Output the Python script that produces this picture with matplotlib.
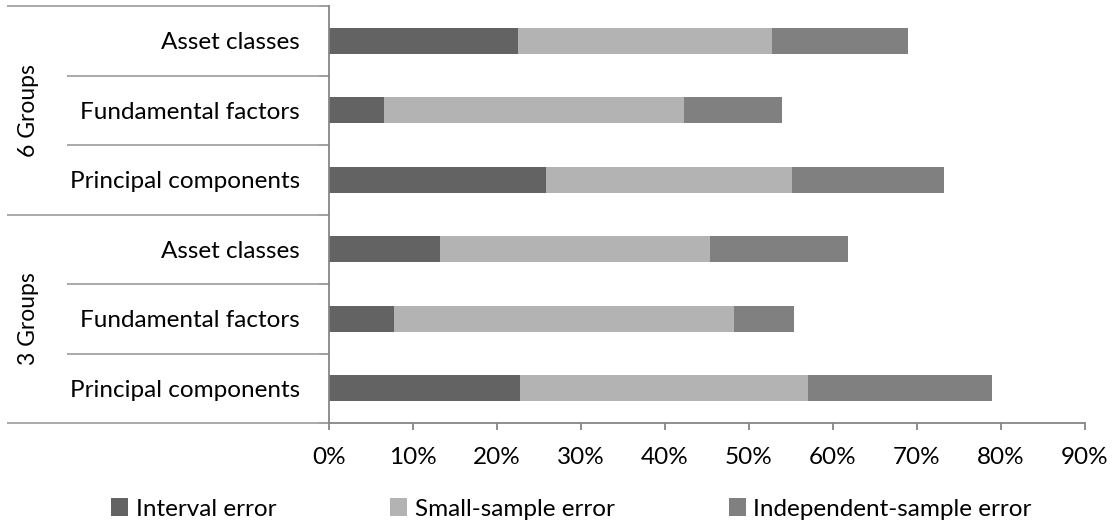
import matplotlib
matplotlib.use("Agg")
import matplotlib.pyplot as plt
import matplotlib.transforms as mtransforms
from matplotlib.patches import Patch
from matplotlib.ticker import FixedLocator, FuncFormatter

plt.rcParams['font.family'] = ['Lato', 'DejaVu Sans']

# Data, bottom to top
categories = ["Principal components", "Fundamental factors", "Asset classes",
              "Principal components", "Fundamental factors", "Asset classes"]
groups = ["3 Groups", "6 Groups"]
interval_err = [22.7, 7.7, 13.2, 25.8, 6.5, 22.5]
small_sample_err = [34.3, 40.5, 32.2, 29.3, 35.8, 30.2]
independent_err = [21.9, 7.2, 16.4, 18.1, 11.6, 16.2]
series_names = ["Interval error", "Small-sample error", "Independent-sample error"]
colors = ["#636363", "#b3b3b3", "#808080"]
xticks = [0, 10, 20, 30, 40, 50, 60, 70, 80, 90]

FS = 17.5
W, H = 1116, 527
fig = plt.figure(figsize=(W / 100, H / 100), dpi=100)
L, R, T, B = 329, 1085, 6, 423
ax = fig.add_axes([L / W, 1 - B / H, (R - L) / W, (B - T) / H])

ypos = list(range(len(categories)))
bh = 0.375
left = [0] * len(categories)
for vals, c, name in zip([interval_err, small_sample_err, independent_err], colors, series_names):
    ax.barh(ypos, vals, left=left, height=bh, color=c, edgecolor='none', label=name)
    left = [a + b for a, b in zip(left, vals)]

ax.set_xlim(0, 90)
ax.set_ylim(-0.5, len(categories) - 0.5)
ax.set_xticks(xticks)
ax.xaxis.set_major_formatter(FuncFormatter(lambda v, p: f"{int(v)}%"))
ax.set_yticks(ypos)
ax.set_yticklabels(categories)
ax.yaxis.set_minor_locator(FixedLocator([i - 0.5 for i in range(len(categories) + 1)]))

spine_c = "#868686"
for s in ['top', 'right']:
    ax.spines[s].set_visible(False)
for s in ['left', 'bottom']:
    ax.spines[s].set_color(spine_c)
    ax.spines[s].set_linewidth(1.3)

ax.tick_params(axis='y', which='major', length=0, pad=21, labelsize=FS, labelcolor='black')
ax.tick_params(axis='y', which='minor', length=7, width=1.3, color=spine_c, direction='out')
ax.tick_params(axis='x', which='major', length=5, width=1.3, color=spine_c, pad=12,
               labelsize=FS, labelcolor='black')

# group separator lines on the left
trans = mtransforms.blended_transform_factory(ax.transAxes, ax.transData)
x_long = (7 - L) / (R - L)
x_short = (67 - L) / (R - L)
sep_c = "#a3a3a3"
for i in range(len(categories) + 1):
    yb = i - 0.5
    x0 = x_long if i % 3 == 0 else x_short
    ax.plot([x0, 0], [yb, yb], transform=trans, color=sep_c, lw=1.3, clip_on=False,
            solid_capstyle='butt')

# group labels
for gi, g in enumerate(groups):
    yc = gi * 3 + 1
    ax.text((28 - L) / (R - L), yc, g, transform=trans, rotation=90,
            ha='center', va='center', fontsize=16.5)

handles = [Patch(facecolor=c, edgecolor='none') for c in colors]
fig.legend(handles, series_names, loc='center', bbox_to_anchor=(0.512, 1 - 509 / H),
           ncol=3, frameon=False, fontsize=FS, handlelength=0.7, handleheight=0.7,
           handletextpad=0.3, columnspacing=4.7, borderaxespad=0, borderpad=0)

fig.savefig("out.png", dpi=100)
